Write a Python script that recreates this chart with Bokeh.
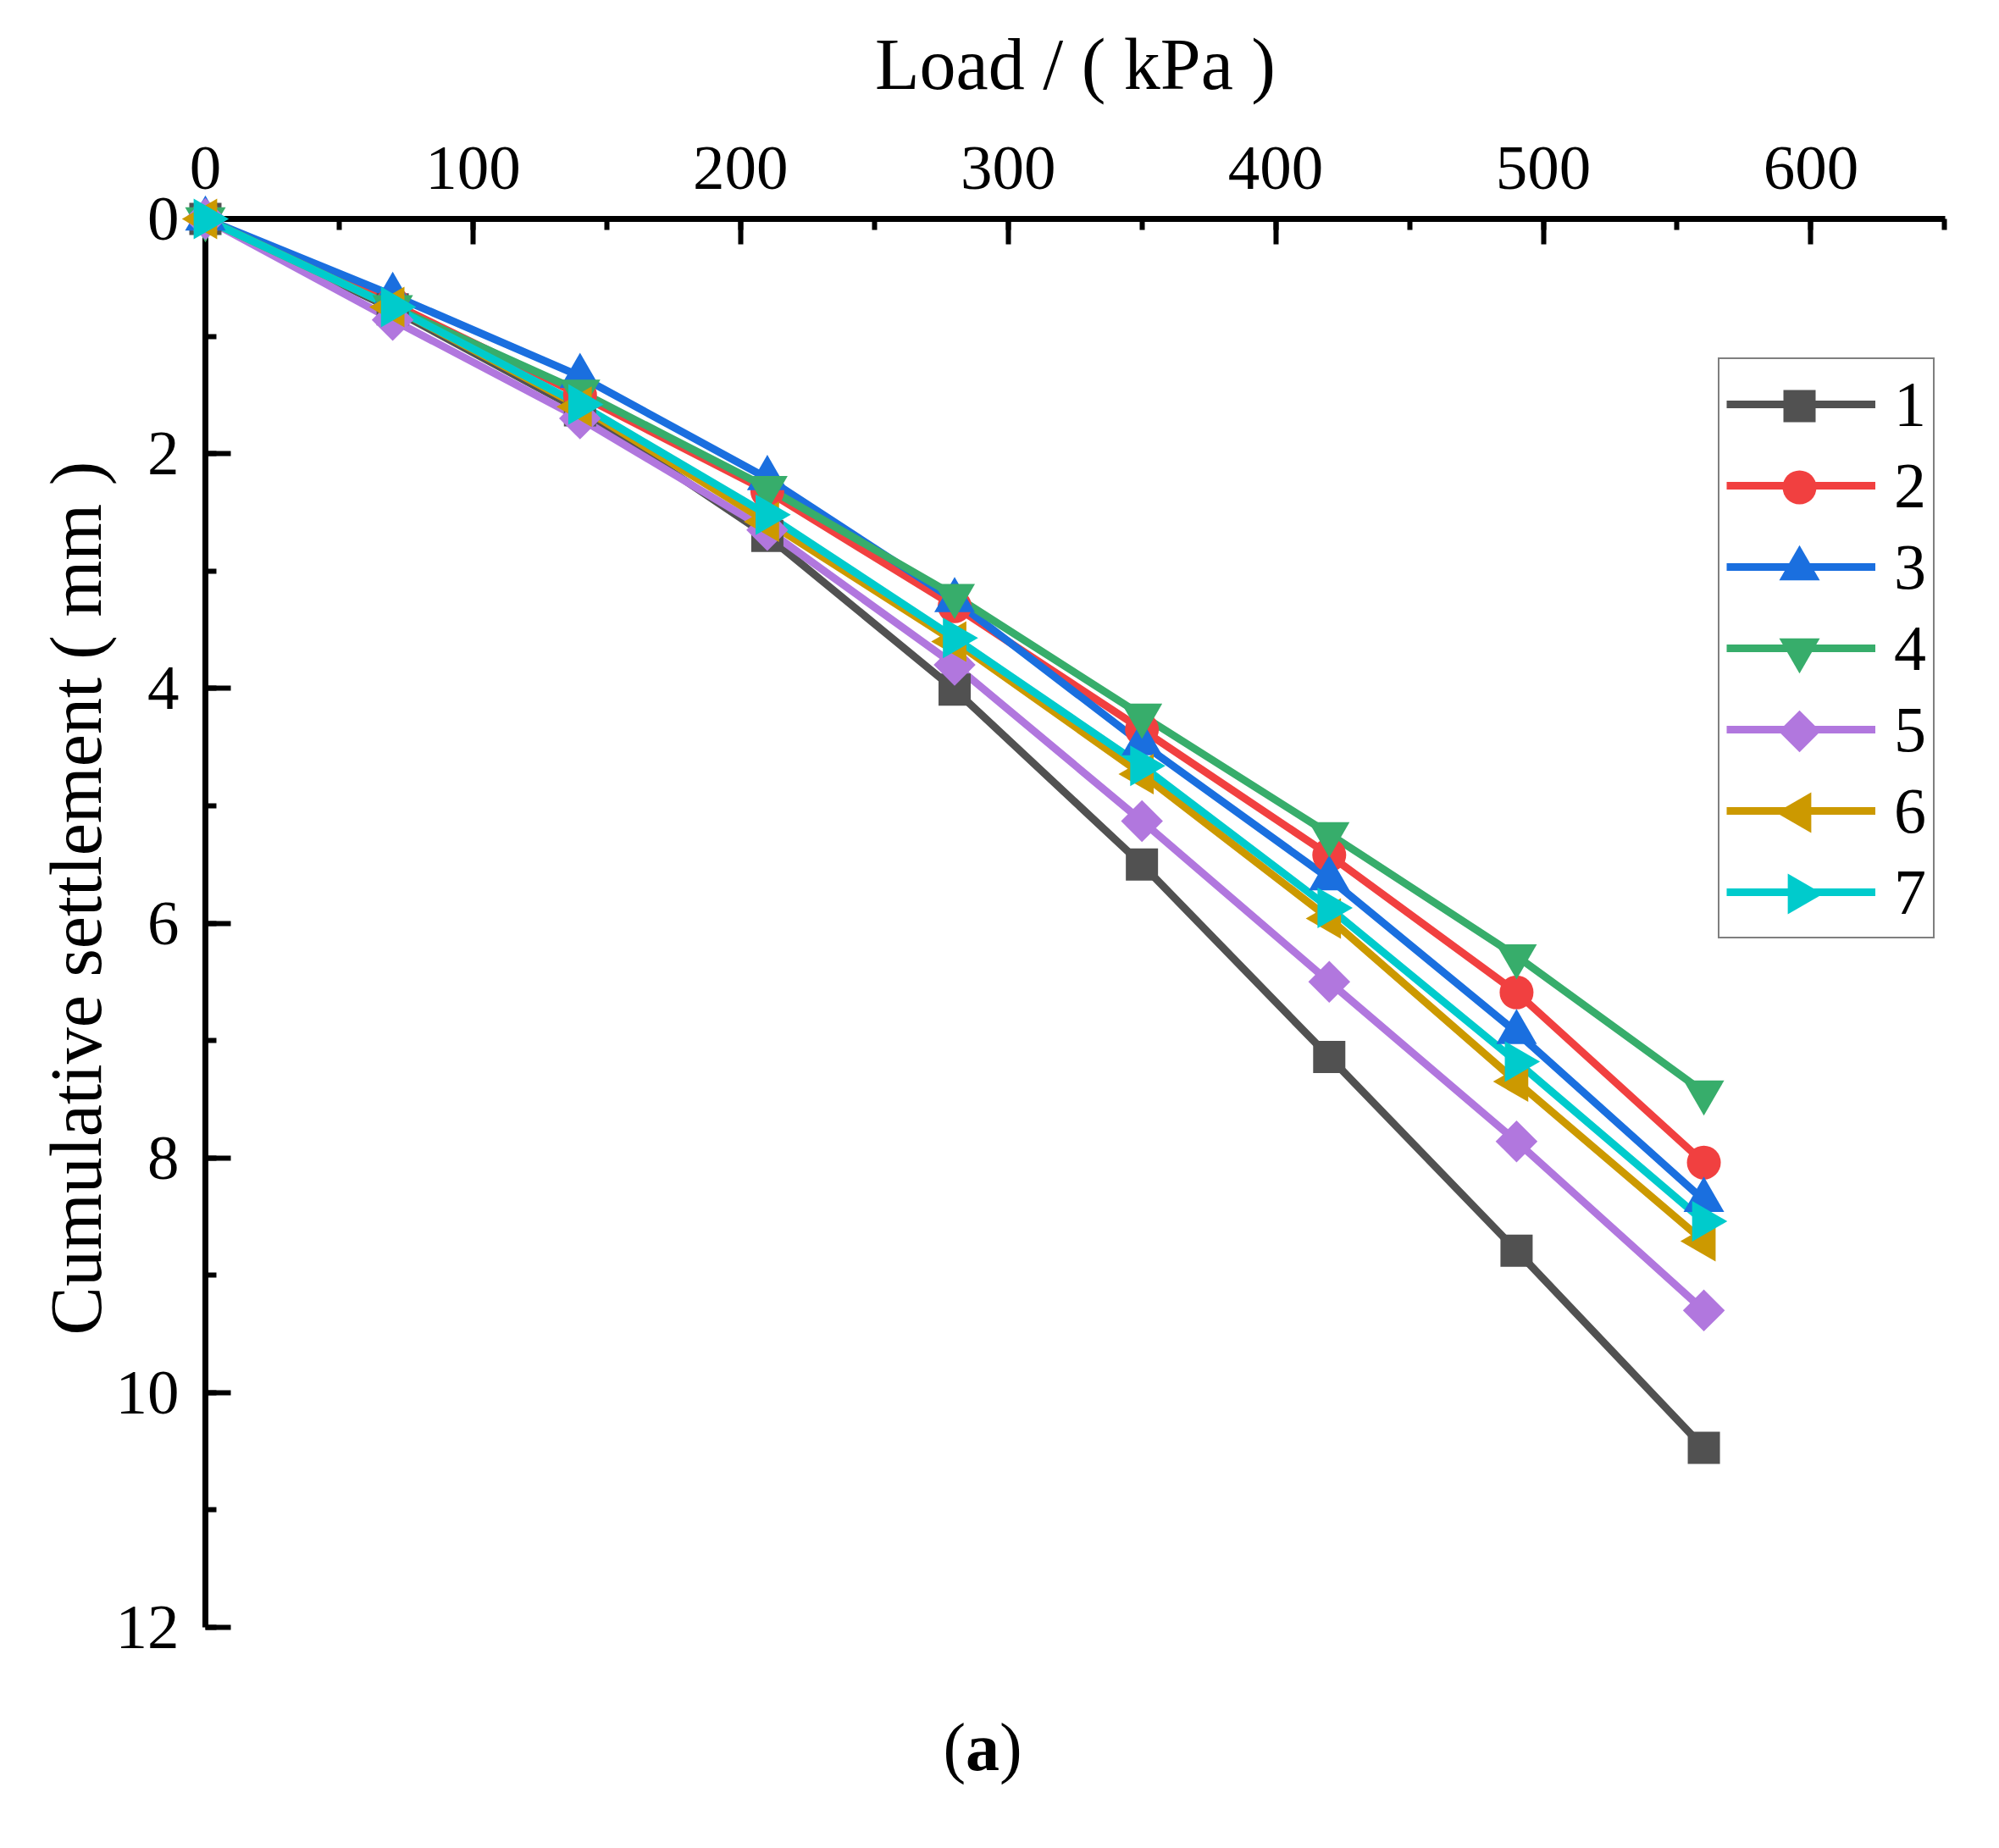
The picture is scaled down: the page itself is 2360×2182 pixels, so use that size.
from bokeh.plotting import figure
from bokeh.models import Range1d, Legend, LegendItem, SingleIntervalTicker
from bokeh.core.properties import value
from bokeh.embed import file_html
from bokeh.resources import INLINE
import math

# ---- data ----
load = [0, 70, 140, 210, 280, 350, 420, 490, 560]
series_names = ["1", "2", "3", "4", "5", "6", "7"]
s1 = [0, 0.77, 1.63, 2.70, 4.01, 5.50, 7.14, 8.79, 10.47]
s2 = [0, 0.72, 1.50, 2.32, 3.30, 4.35, 5.42, 6.59, 8.04]
s3 = [0, 0.65, 1.34, 2.21, 3.25, 4.47, 5.62, 6.93, 8.36]
s4 = [0, 0.75, 1.47, 2.29, 3.21, 4.23, 5.24, 6.28, 7.44]
s5 = [0, 0.86, 1.70, 2.65, 3.80, 5.13, 6.50, 7.86, 9.30]
s6 = [0, 0.75, 1.60, 2.58, 3.60, 4.73, 5.96, 7.35, 8.71]
s7 = [0, 0.75, 1.58, 2.52, 3.57, 4.66, 5.87, 7.18, 8.54]
all_series = [s1, s2, s3, s4, s5, s6, s7]

colors = ["#515151", "#F14040", "#1A6FDF", "#37AD6B", "#B177DE", "#CC9900", "#00CBCC"]
markers = ["square", "circle", "triangle", "inverted_triangle", "square", "triangle", "triangle"]
angles = [0, 0, 0, 0, math.pi / 4, math.pi / 2, -math.pi / 2]
sizes = [38, 40, 48, 48, 35, 48, 48]

FONT = "Liberation Serif"

W, H = 2344, 2166
ML, MR, MT, MB = 242, 48, 258, 245
X0, X1 = 0, 650.2
Y0, Y1 = 0, 12
frame_w = W - ML - MR
frame_h = H - MT - MB
pxu_x = frame_w / (X1 - X0)
pxu_y = frame_h / (Y1 - Y0)

p = figure(width=W, height=H, output_backend="svg", toolbar_location=None,
           x_range=Range1d(X0, X1), y_range=Range1d(Y1, Y0),
           x_axis_location="above", y_axis_location="left",
           min_border_left=ML, min_border_right=MR,
           min_border_top=MT, min_border_bottom=MB)
p.outline_line_color = None
p.grid.visible = False
p.background_fill_color = "white"
p.border_fill_color = "white"

xax = p.xaxis[0]
yax = p.yaxis[0]
xax.ticker = SingleIntervalTicker(interval=100, num_minor_ticks=2)
yax.ticker = SingleIntervalTicker(interval=2, num_minor_ticks=2)
for ax in (xax, yax):
    ax.axis_line_width = 7
    ax.axis_line_color = "black"
    ax.major_tick_line_width = 6
    ax.minor_tick_line_width = 6
    ax.major_tick_in = 30
    ax.major_tick_out = 0
    ax.minor_tick_in = 13
    ax.minor_tick_out = 0
    ax.major_label_text_font = FONT
    ax.major_label_text_font_size = "75px"
    ax.major_label_text_color = "black"
    ax.axis_label_text_font = FONT
    ax.axis_label_text_font_size = "86px"
    ax.axis_label_text_font_style = "normal"
    ax.axis_label_text_color = "black"
xax.major_label_standoff = 36
yax.major_label_standoff = 31
xax.axis_label = "Load / ( kPa )"
xax.axis_label_standoff = 47
yax.axis_label = None

LW = 9
items = []
for name, ys, c, m, a, s in zip(series_names, all_series, colors, markers, angles, sizes):
    r_line = p.line(load, ys, line_color=c, line_width=LW)
    p.scatter(load, ys, marker=m, size=s, angle=a, fill_color=c, line_color=c,
              line_width=0, level="overlay")
    items.append(LegendItem(label=name, renderers=[r_line]))

# legend geometry (screen px relative to frame)
LEG_X, LEG_Y = 1786, 813
PAD, GW, ROW_H, SPACING = 8, 176, 90, 6
legend = Legend(items=items, location=(LEG_X, LEG_Y),
                glyph_width=GW, glyph_height=ROW_H, label_height=ROW_H,
                label_standoff=22, spacing=SPACING, padding=PAD, margin=0,
                label_text_font=FONT, label_text_font_size="76px",
                label_text_color="black",
                border_line_color="black", border_line_width=2.5,
                background_fill_alpha=0.0)
p.add_layout(legend, "center")

# legend sample markers (same colour as the legend lines)
n = len(series_names)
leg_h = 2 * PAD + n * ROW_H + (n - 1) * SPACING
leg_top = frame_h - LEG_Y - leg_h
mk_x = [X0 + (LEG_X + PAD + GW / 2) / pxu_x] * n
mk_y = [Y0 + (leg_top + PAD + ROW_H / 2 + i * (ROW_H + SPACING)) / pxu_y for i in range(n)]
for i in range(n):
    p.scatter([mk_x[i]], [mk_y[i]], marker=markers[i], size=sizes[i], angle=angles[i],
              fill_color=colors[i], line_color=colors[i], line_width=0, level="overlay")

# y axis title
p.text(x=[X0 - 153 / pxu_x], y=[Y0 + 802 / pxu_y], text=["Cumulative settlement ( mm )"],
       angle=math.pi / 2, text_align="center", text_baseline="middle",
       text_font=value(FONT), text_font_size=value("86px"), text_color="black",
       level="overlay")

# panel tag (a)
ty = Y0 + 1804 / pxu_y
p.text(x=[X0 + 871 / pxu_x], y=[ty], text=["("], text_align="left",
       text_baseline="middle", text_font=value(FONT), text_font_size=value("80px"),
       text_color="black", level="overlay")
p.text(x=[X0 + 897.6 / pxu_x], y=[ty], text=["a"], text_align="left",
       text_baseline="middle", text_font=value(FONT), text_font_size=value("80px"),
       text_font_style="bold", text_color="black", level="overlay")
p.text(x=[X0 + 937.6 / pxu_x], y=[ty], text=[")"], text_align="left",
       text_baseline="middle", text_font=value(FONT), text_font_size=value("80px"),
       text_color="black", level="overlay")

open("out.html", "w").write(file_html(p, INLINE))
